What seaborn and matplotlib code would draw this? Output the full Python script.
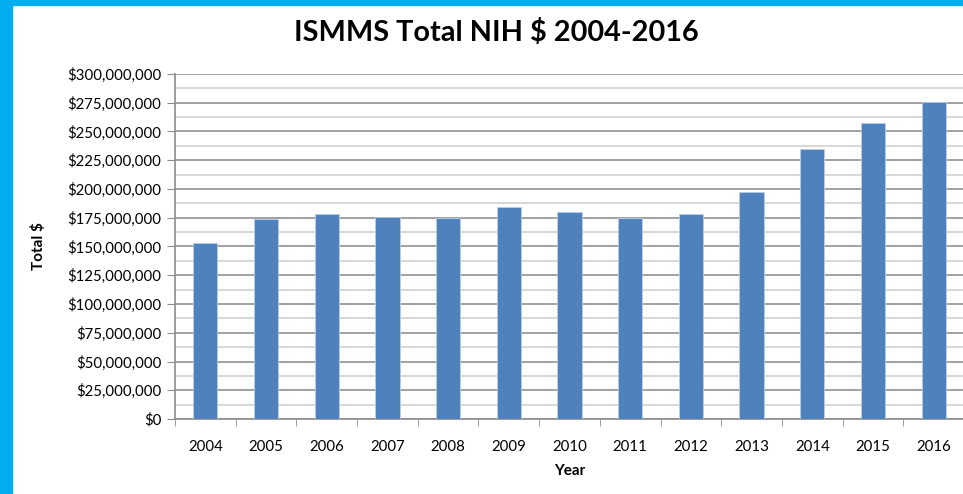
import numpy as np
import pandas as pd
import matplotlib
matplotlib.use('Agg')
import matplotlib.pyplot as plt
import matplotlib.ticker as mticker
from matplotlib.patches import Rectangle
import seaborn as sns

# 데이터
years = ['2004', '2005', '2006', '2007', '2008', '2009', '2010',
         '2011', '2012', '2013', '2014', '2015', '2016']
totals = [153, 174, 178, 175.5, 175, 184, 180,
          175, 178, 197, 235, 257, 276]  # 단위: 백만 달러

df = pd.DataFrame({'Year': years, 'Total': [v * 1e6 for v in totals]})

sns.set_style('white')
plt.rcParams['font.family'] = ['Lato', 'DejaVu Sans']

fig = plt.figure(figsize=(9.63, 4.94), dpi=100)
ax = fig.add_axes([175 / 963, 75 / 494, 789 / 963, 345 / 494])

sns.barplot(data=df, x='Year', y='Total', color='#4F81BD', width=0.4,
            edgecolor='#B9CDE5', linewidth=0.6, saturation=1, ax=ax, zorder=3)

ax.set_xlim(-0.5, 12.5)
ax.set_ylim(0, 300e6)
ax.yaxis.set_major_locator(mticker.MultipleLocator(25e6))
ax.yaxis.set_minor_locator(mticker.MultipleLocator(12.5e6))
ax.yaxis.set_major_formatter(mticker.FuncFormatter(lambda v, p: f'${v:,.0f}'))
ax.xaxis.set_minor_locator(mticker.FixedLocator(np.arange(-0.5, 13, 1)))

ax.grid(which='major', axis='y', color='#9A9A9A', linewidth=1.3, zorder=0)
ax.grid(which='minor', axis='y', color='#D4D4D4', linewidth=1.3, zorder=0)
ax.set_axisbelow(True)

for s in ['top', 'right']:
    ax.spines[s].set_visible(False)
for s in ['left', 'bottom']:
    ax.spines[s].set_color('#8C8C8C')
    ax.spines[s].set_linewidth(1.2)

ax.tick_params(axis='y', which='major', direction='out', length=6, color='#8C8C8C',
               labelsize=10.8, labelcolor='black', pad=4, left=True)
ax.tick_params(axis='y', which='minor', length=0)
ax.tick_params(axis='x', which='major', length=0, labelsize=10.8, labelcolor='black', pad=15)
ax.tick_params(axis='x', which='minor', direction='out', length=5, color='#8C8C8C',
               bottom=True)

ax.set_xlabel('Year', fontsize=11, fontweight='bold', color='black')
ax.set_ylabel('Total $', fontsize=11, fontweight='bold', color='black')
ax.xaxis.set_label_coords(0.5, -0.13)
ax.yaxis.set_label_coords(-0.163, 0.5)

fig.text(496 / 963, 1 - 33 / 494, 'ISMMS Total NIH $ 2004-2016', ha='center', va='center',
         fontsize=20.8, fontweight='bold', color='black')

# 테두리
fig.patches.append(Rectangle((0, 1 - 5 / 494), 1, 5 / 494, transform=fig.transFigure,
                             color='#00AEEF', zorder=10))
fig.patches.append(Rectangle((0, 0), 12 / 963, 1, transform=fig.transFigure,
                             color='#00AEEF', zorder=10))

fig.savefig('out.png', dpi=100)
